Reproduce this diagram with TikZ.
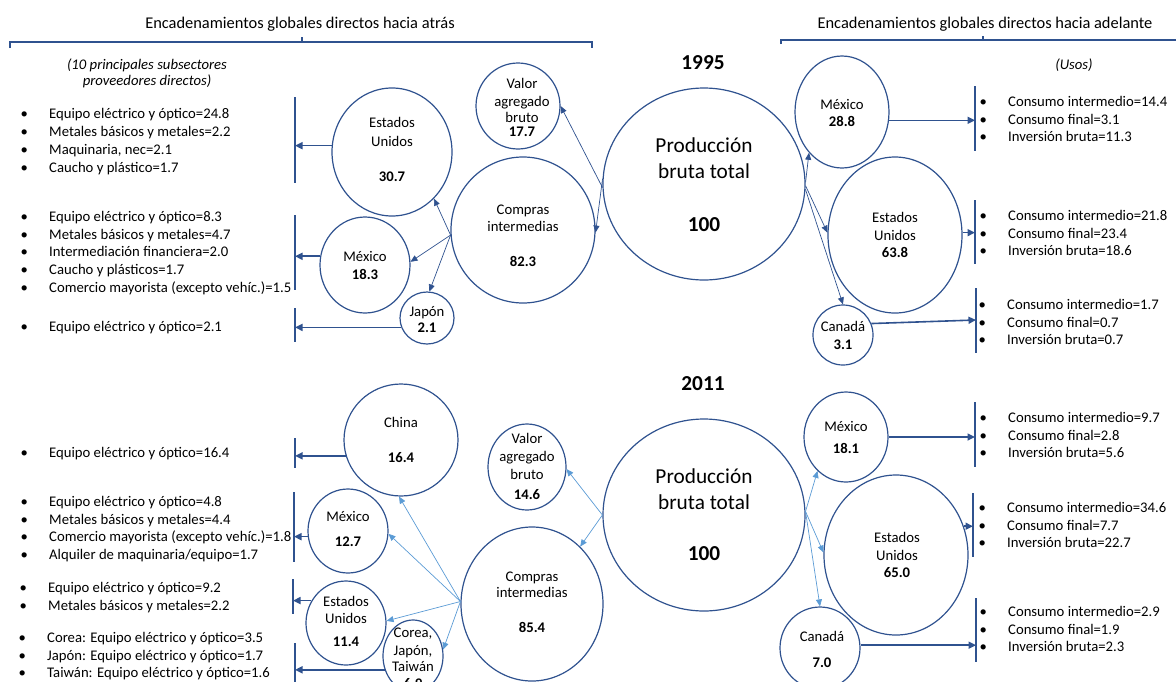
\documentclass[tikz,border=0pt]{standalone}
\usepackage{fontspec}
\setmainfont{Carlito}
\usetikzlibrary{arrows.meta,shapes.geometric}

\definecolor{cdark}{HTML}{2F528F}
\definecolor{clight}{HTML}{5B9BD5}

\newcommand\fsN{\fontsize{14.7}{17.7}\selectfont}
\newcommand\fsNw{\fontsize{14.7}{18}\selectfont}
\newcommand\fsT{\fontsize{16.4}{19}\selectfont}
\newcommand\fsB{\fontsize{21.3}{26}\selectfont}
\newcommand\bitem{\makebox[25pt][l]{\makebox[0pt]{\textbullet}}}

\tikzset{
  bubble/.style={draw=cdark, line width=1.2pt, ellipse, inner sep=0pt},
  lbl/.style={anchor=base, inner sep=0pt, font=\fsN},
  num/.style={anchor=base, inner sep=0pt, font=\fsN\bfseries},
  big/.style={anchor=base, inner sep=0pt, font=\fsB},
  bignum/.style={anchor=base, inner sep=0pt, font=\fsB\bfseries},
  listbox/.style={anchor=base west, inner sep=0pt, font=\fsN},
  inarr/.style={draw=cdark, line width=0.7pt, -{Triangle[length=7pt,width=6pt]}},
  inarrL/.style={draw=clight, line width=0.7pt, -{Triangle[length=7pt,width=6pt]}},
  larr/.style={draw=cdark, line width=1.6pt, -{Triangle[length=7.5pt,width=7pt]}},
  bar/.style={draw=cdark, line width=1.3pt},
  brk/.style={draw=cdark, line width=1.1pt},
}

\begin{document}
\begin{tikzpicture}[x=1pt, y=-1pt]
\useasboundingbox (0,0) rectangle (1176,681);
\clip (0,0) rectangle (1176,681);

% ---------- headings and brackets ----------
\node[lbl, font=\fsT] (ttlL) at (300,28) {Encadenamientos globales directos hacia atrás};
\node[lbl, font=\fsT] (ttlR) at (985,28) {Encadenamientos globales directos hacia adelante};
\draw[brk] (10,48) -- (10,42) -- (592,42) -- (592,48);
\draw[brk] (302,42) -- (302,37);
\draw[brk] (781,44) -- (781,40) -- (1176,40);
\draw[brk] (983,40) -- (983,36);

\node[lbl, font=\fsN\itshape] (subL1) at (147,69.5) {(10 principales subsectores};
\node[lbl, font=\fsN\itshape] (subL2) at (147,85.5) {proveedores directos)};
\node[lbl, font=\fsN\itshape] (subR) at (1074,69.5) {(Usos)};

\node[bignum] (y95) at (703,69) {1995};
\node[bignum] (y11) at (703,390) {2011};

% ---------- 1995 bubbles ----------
\node[bubble, minimum width=84pt,  minimum height=86pt]  (valor95) at (518,106) {};
\node[bubble, minimum width=120pt, minimum height=128pt] (us95)    at (392,152) {};
\node[bubble, minimum width=144pt, minimum height=146pt] (comp95)  at (523,230) {};
\node[bubble, minimum width=90pt,  minimum height=96pt]  (mex95l)  at (365,265) {};
\node[bubble, minimum width=54pt,  minimum height=52pt]  (jap95)   at (427,318) {};
\node[bubble, minimum width=202pt, minimum height=192pt] (prod95)  at (704,184) {};
\node[bubble, minimum width=94pt,  minimum height=112pt] (mex95r)  at (842,112) {};
\node[bubble, minimum width=134pt, minimum height=156pt] (us95r)   at (895,235) {};
\node[bubble, minimum width=60pt,  minimum height=60pt]  (can95)   at (843,335) {};

\node[lbl] (va95a) at (522,88) {Valor};
\node[lbl] (va95b) at (522,106.5) {agregado};
\node[lbl] (va95c) at (522,122.5) {bruto};
\node[num] (va95n) at (522,136.5) {17.7};
\node[lbl] (us95a) at (392,127.5) {Estados};
\node[lbl] (us95b) at (392,146.5) {Unidos};
\node[num] (us95n) at (392,181.5) {30.7};
\node[lbl] (co95a) at (523,214.5) {Compras};
\node[lbl] (co95b) at (523,231.5) {intermedias};
\node[num] (co95n) at (523,266.5) {82.3};
\node[lbl] (ml95a) at (365,261.5) {México};
\node[num] (ml95n) at (365,279.5) {18.3};
\node[lbl] (jp95a) at (427,316.5) {Japón};
\node[num] (jp95n) at (427,332.5) {2.1};
\node[big] (pr95a) at (704,152.5) {Producción};
\node[big] (pr95b) at (704,178.5) {bruta total};
\node[bignum] (pr95n) at (704,231) {100};
\node[lbl] (mr95a) at (842,109.5) {México};
\node[num] (mr95n) at (842,126.5) {28.8};
\node[lbl] (ur95a) at (895,222.5) {Estados};
\node[lbl] (ur95b) at (895,240.5) {Unidos};
\node[num] (ur95n) at (895,257.5) {63.8};
\node[lbl] (ca95a) at (843,331.5) {Canadá};
\node[num] (ca95n) at (843,349.5) {3.1};

% 1995 flows
\draw[inarr] (prod95.182) -- (valor95.0);
\draw[inarr] (prod95.177) -- (comp95.358);
\draw[inarr] (comp95.184) -- (us95.-48);
\draw[inarr] (comp95.184) -- (mex95l.4);
\draw[inarr] (comp95.184) -- (jap95.85);
\draw[inarr] (prod95.1) -- (mex95r.231);
\draw[inarr] (prod95.-1) -- (us95r.178);
\draw[inarr] (prod95.-3) -- (can95.90);

% 1995 suppliers
\coordinate (b1t) at (295,97);  \coordinate (b1b) at (295,183);
\coordinate (b2t) at (295,215); \coordinate (b2b) at (295,290);
\coordinate (b3t) at (295,308); \coordinate (b3b) at (295,342);
\draw[bar] (b1t) -- (b1b);
\draw[bar] (b2t) -- (b2b);
\draw[bar] (b3t) -- (b3b);
\draw[larr] (us95.174) -- (us95.174 -| b1t);
\draw[larr] (mex95l.169) -- (mex95l.169 -| b2t);
\draw[larr] (jap95.200) -- (jap95.200 -| b3t);

\node[listbox, font=\fsNw] (l95a) at (24,118.5) {\begin{tabular}[t]{@{}l@{}}
\bitem Equipo eléctrico y óptico=24.8\\
\bitem Metales básicos y metales=2.2\\
\bitem Maquinaria, nec=2.1\\
\bitem Caucho y plástico=1.7
\end{tabular}};
\node[listbox] (l95b) at (24,221.5) {\begin{tabular}[t]{@{}l@{}}
\bitem Equipo eléctrico y óptico=8.3\\
\bitem Metales básicos y metales=4.7\\
\bitem Intermediación financiera=2.0\\
\bitem Caucho y plásticos=1.7\\
\bitem Comercio mayorista (excepto vehíc.)=1.5
\end{tabular}};
\node[listbox] (l95c) at (24,331.5) {\begin{tabular}[t]{@{}l@{}}
\bitem Equipo eléctrico y óptico=2.1
\end{tabular}};

% 1995 uses
\coordinate (r1t) at (975,86);  \coordinate (r1b) at (975,151);
\coordinate (r2t) at (975,200); \coordinate (r2b) at (975,264);
\coordinate (r3t) at (976,288); \coordinate (r3b) at (976,353);
\coordinate (r3p) at (976,320);
\draw[bar] (r1t) -- (r1b);
\draw[bar] (r2t) -- (r2b);
\draw[bar] (r3t) -- (r3b);
\draw[larr] (mex95r.-10) -- (mex95r.-10 -| r1t);
\draw[larr] (us95r.2) -- (us95r.2 -| r2t);
\draw[larr] (can95.22) -- (r3p);

\node[listbox] (u95a) at (983,106.5) {\begin{tabular}[t]{@{}l@{}}
\bitem Consumo intermedio=14.4\\
\bitem Consumo final=3.1\\
\bitem Inversión bruta=11.3
\end{tabular}};
\node[listbox] (u95b) at (983,220.5) {\begin{tabular}[t]{@{}l@{}}
\bitem Consumo intermedio=21.8\\
\bitem Consumo final=23.4\\
\bitem Inversión bruta=18.6
\end{tabular}};
\node[listbox] (u95c) at (982,309.5) {\begin{tabular}[t]{@{}l@{}}
\bitem Consumo intermedio=1.7\\
\bitem Consumo final=0.7\\
\bitem Inversión bruta=0.7
\end{tabular}};

% ---------- 2011 bubbles ----------
\node[bubble, minimum width=114pt, minimum height=112pt] (china)   at (401,440) {};
\node[bubble, minimum width=80pt,  minimum height=84pt]  (mex11l)  at (348,531) {};
\node[bubble, minimum width=80pt,  minimum height=84pt]  (us11l)   at (346,623) {};
\node[bubble, minimum width=60pt,  minimum height=72pt]  (corea)   at (413,656) {};
\node[bubble, minimum width=78pt,  minimum height=86pt]  (valor11) at (527,467) {};
\node[bubble, minimum width=142pt, minimum height=154pt] (comp11)  at (532,604) {};
\node[bubble, minimum width=202pt, minimum height=192pt] (prod11)  at (704,515) {};
\node[bubble, minimum width=84pt,  minimum height=90pt]  (mex11r)  at (846,437) {};
\node[bubble, minimum width=144pt, minimum height=160pt] (us11r)   at (896,555) {};
\node[bubble, minimum width=80pt,  minimum height=82pt]  (can11)   at (820,648) {};

\node[lbl] (ch11a) at (401,427.5) {China};
\node[num] (ch11n) at (401,462.5) {16.4};
\node[lbl] (ml11a) at (348,521.5) {México};
\node[num] (ml11n) at (348,546.5) {12.7};
\node[lbl] (ul11a) at (346,606.5) {Estados};
\node[lbl] (ul11b) at (346,623.5) {Unidos};
\node[num] (ul11n) at (346,646.5) {11.4};
\node[lbl] (cj11a) at (413,637.5) {Corea,};
\node[lbl] (cj11b) at (413,655.5) {Japón,};
\node[lbl] (cj11c) at (413,671.5) {Taiwán};
\node[num] (cj11n) at (413,688) {6.9};
\node[lbl] (va11a) at (527,443.5) {Valor};
\node[lbl] (va11b) at (527,461.5) {agregado};
\node[lbl] (va11c) at (527,479.5) {bruto};
\node[num] (va11n) at (527,499.5) {14.6};
\node[lbl] (co11a) at (532,581.5) {Compras};
\node[lbl] (co11b) at (532,597.5) {intermedias};
\node[num] (co11n) at (532,632.5) {85.4};
\node[big] (pr11a) at (704,483.5) {Producción};
\node[big] (pr11b) at (704,509.5) {bruta total};
\node[bignum] (pr11n) at (704,560.5) {100};
\node[lbl] (mr11a) at (846,431.5) {México};
\node[num] (mr11n) at (846,453.5) {18.1};
\node[lbl] (ur11a) at (897,542.5) {Estados};
\node[lbl] (ur11b) at (897,560.5) {Unidos};
\node[num] (ur11n) at (897,577.5) {65.0};
\node[lbl] (ca11a) at (822,641.5) {Canadá};
\node[num] (ca11n) at (822,667.5) {7.0};

% 2011 flows
\draw[inarrL] (prod11.180) -- (valor11.-3);
\draw[inarrL] (prod11.180) -- (comp11.50);
\draw[inarrL] (comp11.178) -- (china.268);
\draw[inarrL] (comp11.178) -- (mex11l.-4);
\draw[inarrL] (comp11.178) -- (us11l.3);
\draw[inarrL] (comp11.178) -- (corea.12);
\draw[inarrL] (prod11.2) -- (mex11r.230);
\draw[inarrL] (prod11.2) -- (us11r.178);
\draw[inarrL] (prod11.2) -- (can11.90);

% 2011 suppliers
\coordinate (c1t) at (295,438); \coordinate (c1b) at (295,468);
\coordinate (c2t) at (294,492); \coordinate (c2b) at (294,562);
\coordinate (c3t) at (293,579); \coordinate (c3b) at (293,614);
\coordinate (c4t) at (295,643); \coordinate (c4b) at (295,685);
\draw[bar] (c1t) -- (c1b);
\draw[bar] (c2t) -- (c2b);
\draw[bar] (c3t) -- (c3b);
\draw[bar] (c4t) -- (c4b);
\draw[larr] (china.196) -- (china.196 -| c1t);
\draw[larr] (mex11l.188) -- (mex11l.188 -| c2t);
\draw[larr] (us11l.147) -- (us11l.147 -| c3t);
\draw[larr] (corea.206) -- (corea.206 -| c4t);

\node[listbox] (l11a) at (24,457.5) {\begin{tabular}[t]{@{}l@{}}
\bitem Equipo eléctrico y óptico=16.4
\end{tabular}};
\node[listbox] (l11b) at (24,506.5) {\begin{tabular}[t]{@{}l@{}}
\bitem Equipo eléctrico y óptico=4.8\\
\bitem Metales básicos y metales=4.4\\
\bitem Comercio mayorista (excepto vehíc.)=1.8\\
\bitem Alquiler de maquinaria/equipo=1.7
\end{tabular}};
\node[listbox, font=\fsNw] (l11c) at (23,592.5) {\begin{tabular}[t]{@{}l@{}}
\bitem Equipo eléctrico y óptico=9.2\\
\bitem Metales básicos y metales=2.2
\end{tabular}};
\node[listbox] (l11d) at (22,642.5) {\begin{tabular}[t]{@{}l@{}}
\bitem Corea: Equipo eléctrico y óptico=3.5\\
\bitem Japón: Equipo eléctrico y óptico=1.7\\
\bitem Taiwán: Equipo eléctrico y óptico=1.6
\end{tabular}};

% 2011 uses
\coordinate (m1t) at (975,402); \coordinate (m1b) at (975,467);
\coordinate (m2t) at (973,493); \coordinate (m2b) at (973,557);
\coordinate (m3t) at (976,598); \coordinate (m3b) at (976,662);
\draw[bar] (m1t) -- (m1b);
\draw[bar] (m2t) -- (m2b);
\draw[bar] (m3t) -- (m3b);
\draw[larr] (mex11r.0) -- (mex11r.0 -| m1t);
\draw[larr] (us11r.23) -- (us11r.23 -| m2t);
\draw[larr] (can11.4) -- (can11.4 -| m3t);

\node[listbox] (u11a) at (983,422.5) {\begin{tabular}[t]{@{}l@{}}
\bitem Consumo intermedio=9.7\\
\bitem Consumo final=2.8\\
\bitem Inversión bruta=5.6
\end{tabular}};
\node[listbox] (u11b) at (982,512.5) {\begin{tabular}[t]{@{}l@{}}
\bitem Consumo intermedio=34.6\\
\bitem Consumo final=7.7\\
\bitem Inversión bruta=22.7
\end{tabular}};
\node[listbox] (u11c) at (983,616.5) {\begin{tabular}[t]{@{}l@{}}
\bitem Consumo intermedio=2.9\\
\bitem Consumo final=1.9\\
\bitem Inversión bruta=2.3
\end{tabular}};
\end{tikzpicture}
\end{document}
